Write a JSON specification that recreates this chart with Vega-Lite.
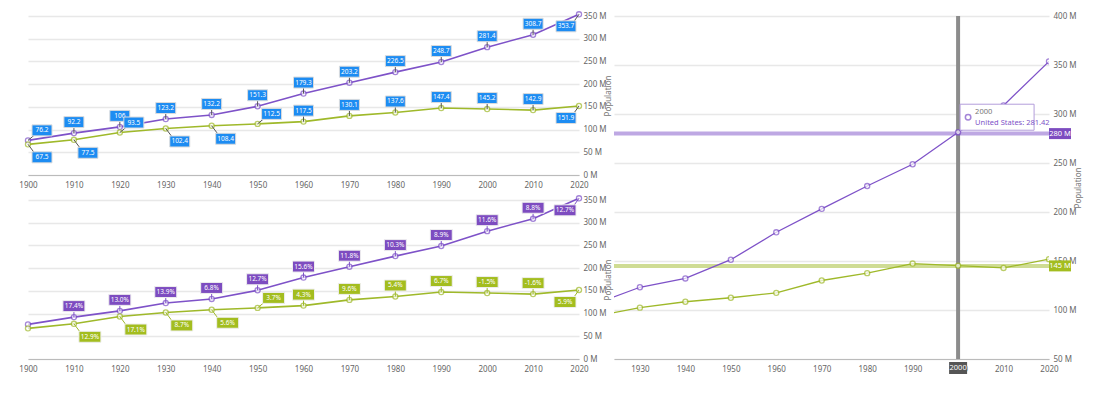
{
  "$schema": "https://vega.github.io/schema/vega-lite/v6.json",
  "background": "white",
  "padding": {"left": 18, "top": 9, "right": 5, "bottom": 5},
  "config": {
    "view": {"stroke": null},
    "font": "Noto Sans",
    "axis": {"labelFont": "Noto Sans", "labelFontSize": 8, "labelColor": "#666", "domainColor": "#bbb", "gridColor": "#e8e8e8", "gridWidth": 1.5, "ticks": false, "titleFont": "Noto Sans", "titleFontWeight": "normal", "titleFontSize": 8, "titleColor": "#777"},
    "axisX": {"labelFlush": false}
  },
  "datasets": {
    "pop": [
      {"year": 1900, "country": "United States", "pop": 76.2, "growth": null},
      {"year": 1910, "country": "United States", "pop": 92.2, "growth": "17.4%"},
      {"year": 1920, "country": "United States", "pop": 106, "growth": "13.0%"},
      {"year": 1930, "country": "United States", "pop": 123.2, "growth": "13.9%"},
      {"year": 1940, "country": "United States", "pop": 132.2, "growth": "6.8%"},
      {"year": 1950, "country": "United States", "pop": 151.3, "growth": "12.7%"},
      {"year": 1960, "country": "United States", "pop": 179.3, "growth": "15.6%"},
      {"year": 1970, "country": "United States", "pop": 203.2, "growth": "11.8%"},
      {"year": 1980, "country": "United States", "pop": 226.5, "growth": "10.3%"},
      {"year": 1990, "country": "United States", "pop": 248.7, "growth": "8.9%"},
      {"year": 2000, "country": "United States", "pop": 281.4, "growth": "11.6%"},
      {"year": 2010, "country": "United States", "pop": 308.7, "growth": "8.8%"},
      {"year": 2020, "country": "United States", "pop": 353.7, "growth": "12.7%"},
      {"year": 1900, "country": "Russia", "pop": 67.5, "growth": null},
      {"year": 1910, "country": "Russia", "pop": 77.5, "growth": "12.9%"},
      {"year": 1920, "country": "Russia", "pop": 93.5, "growth": "17.1%"},
      {"year": 1930, "country": "Russia", "pop": 102.4, "growth": "8.7%"},
      {"year": 1940, "country": "Russia", "pop": 108.4, "growth": "5.6%"},
      {"year": 1950, "country": "Russia", "pop": 112.5, "growth": "3.7%"},
      {"year": 1960, "country": "Russia", "pop": 117.5, "growth": "4.3%"},
      {"year": 1970, "country": "Russia", "pop": 130.1, "growth": "9.6%"},
      {"year": 1980, "country": "Russia", "pop": 137.6, "growth": "5.4%"},
      {"year": 1990, "country": "Russia", "pop": 147.4, "growth": "6.7%"},
      {"year": 2000, "country": "Russia", "pop": 145.2, "growth": "-1.5%"},
      {"year": 2010, "country": "Russia", "pop": 142.9, "growth": "-1.6%"},
      {"year": 2020, "country": "Russia", "pop": 151.9, "growth": "5.9%"}
    ]
  },
  "spacing": -1,
  "hconcat": [
    {
      "spacing": 4,
      "vconcat": [
        {
          "width": 551, "height": 159,
          "data": {"name": "pop"},
          "encoding": {
            "x": {"field": "year", "type": "quantitative", "scale": {"domain": [1900, 2020], "nice": false}, "axis": {"values": [1900, 1910, 1920, 1930, 1940, 1950, 1960, 1970, 1980, 1990, 2000, 2010, 2020], "format": "d", "title": null, "grid": false, "labelPadding": 6}},
            "y": {"field": "pop", "type": "quantitative", "scale": {"domain": [0, 350], "nice": false}, "axis": {"orient": "right", "values": [0, 50, 100, 150, 200, 250, 300, 350], "labelExpr": "datum.value + ' M'", "title": "Population", "titleAngle": 270, "domain": false, "grid": true, "labelPadding": 4, "titlePadding": 6}}
          },
          "layer": [
            {"mark": {"type": "line", "strokeWidth": 1.6}, "encoding": {"color": {"field": "country", "type": "nominal", "scale": {"domain": ["United States", "Russia"], "range": ["#7e52c8", "#9fb92a"]}, "legend": null}}},
            {"mark": {"type": "point", "filled": true, "fill": "white", "size": 26, "strokeWidth": 1.3}, "encoding": {"stroke": {"field": "country", "type": "nominal", "scale": {"domain": ["United States", "Russia"], "range": ["#7e52c8", "#9fb92a"]}, "legend": null}}},
            {
              "transform": [{"filter": "(datum.country=='United States' && datum.year>=1910 && datum.year<=2010) || (datum.country=='Russia' && datum.year>=1960 && datum.year<=2010)"}],
              "layer": [
                {"mark": {"type": "rule", "color": "#555", "strokeWidth": 1, "y2Offset": -5.5}, "encoding": {"x2": {"field": "year"}, "y2": {"field": "pop"}}},
                {"mark": {"type": "rect", "fill": "#1d8cf2", "stroke": "#dcdcdc", "strokeWidth": 1, "xOffset": -10, "x2Offset": 10, "yOffset": -16.5, "y2Offset": -5.5}, "encoding": {"x2": {"field": "year"}, "y2": {"field": "pop"}}},
                {"mark": {"type": "text", "color": "white", "fontSize": 6.5, "yOffset": -11}, "encoding": {"text": {"field": "pop", "type": "quantitative"}}}
              ]
            },
            {
              "transform": [{"filter": "(datum.country=='United States' && datum.year==1900) || (datum.country=='Russia' && (datum.year==1920 || datum.year==1950))"}],
              "layer": [
                {"mark": {"type": "rule", "color": "#555", "strokeWidth": 1, "x2Offset": 6, "y2Offset": -5}, "encoding": {"x2": {"field": "year"}, "y2": {"field": "pop"}}},
                {"mark": {"type": "rect", "fill": "#1d8cf2", "stroke": "#dcdcdc", "strokeWidth": 1, "xOffset": 4, "x2Offset": 24, "yOffset": -15.5, "y2Offset": -4.5}, "encoding": {"x2": {"field": "year"}, "y2": {"field": "pop"}}},
                {"mark": {"type": "text", "color": "white", "fontSize": 6.5, "xOffset": 14, "yOffset": -10}, "encoding": {"text": {"field": "pop", "type": "quantitative"}}}
              ]
            },
            {
              "transform": [{"filter": "datum.country=='Russia' && (datum.year==1900 || datum.year==1910 || datum.year==1930 || datum.year==1940)"}],
              "layer": [
                {"mark": {"type": "rule", "color": "#555", "strokeWidth": 1, "x2Offset": 6, "y2Offset": 8}, "encoding": {"x2": {"field": "year"}, "y2": {"field": "pop"}}},
                {"mark": {"type": "rect", "fill": "#1d8cf2", "stroke": "#dcdcdc", "strokeWidth": 1, "xOffset": 4, "x2Offset": 24, "yOffset": 7.5, "y2Offset": 18.5}, "encoding": {"x2": {"field": "year"}, "y2": {"field": "pop"}}},
                {"mark": {"type": "text", "color": "white", "fontSize": 6.5, "xOffset": 14, "yOffset": 13}, "encoding": {"text": {"field": "pop", "type": "quantitative"}}}
              ]
            },
            {
              "transform": [{"filter": "datum.year==2020"}],
              "layer": [
                {"mark": {"type": "rule", "color": "#555", "strokeWidth": 1, "x2Offset": -5, "y2Offset": 7}, "encoding": {"x2": {"field": "year"}, "y2": {"field": "pop"}}},
                {"mark": {"type": "rect", "fill": "#1d8cf2", "stroke": "#dcdcdc", "strokeWidth": 1, "xOffset": -23, "x2Offset": -3, "yOffset": 6.5, "y2Offset": 17.5}, "encoding": {"x2": {"field": "year"}, "y2": {"field": "pop"}}},
                {"mark": {"type": "text", "color": "white", "fontSize": 6.5, "xOffset": -13, "yOffset": 12}, "encoding": {"text": {"field": "pop", "type": "quantitative"}}}
              ]
            }
          ]
        },
        {
          "width": 551, "height": 159,
          "data": {"name": "pop"},
          "encoding": {
            "x": {"field": "year", "type": "quantitative", "scale": {"domain": [1900, 2020], "nice": false}, "axis": {"values": [1900, 1910, 1920, 1930, 1940, 1950, 1960, 1970, 1980, 1990, 2000, 2010, 2020], "format": "d", "title": null, "grid": false, "labelPadding": 6}},
            "y": {"field": "pop", "type": "quantitative", "scale": {"domain": [0, 350], "nice": false}, "axis": {"orient": "right", "values": [0, 50, 100, 150, 200, 250, 300, 350], "labelExpr": "datum.value + ' M'", "title": "Population", "titleAngle": 270, "domain": false, "grid": true, "labelPadding": 4, "titlePadding": 6}}
          },
          "layer": [
            {"mark": {"type": "line", "strokeWidth": 1.6}, "encoding": {"color": {"field": "country", "type": "nominal", "scale": {"domain": ["United States", "Russia"], "range": ["#7e52c8", "#9fb92a"]}, "legend": null}}},
            {"mark": {"type": "point", "filled": true, "fill": "white", "size": 26, "strokeWidth": 1.3}, "encoding": {"stroke": {"field": "country", "type": "nominal", "scale": {"domain": ["United States", "Russia"], "range": ["#7e52c8", "#9fb92a"]}, "legend": null}}},
            {
              "transform": [{"filter": "(datum.country=='United States' && datum.year>=1910 && datum.year<=2010) || (datum.country=='Russia' && datum.year>=1960 && datum.year<=2010)"}],
              "layer": [
                {"mark": {"type": "rule", "strokeWidth": 1, "y2Offset": -5.5}, "encoding": {"x2": {"field": "year"}, "y2": {"field": "pop"}, "color": {"field": "country", "type": "nominal", "scale": {"domain": ["United States", "Russia"], "range": ["#7e52c8", "#9fb92a"]}, "legend": null}}},
                {"mark": {"type": "rect", "stroke": "#eeeeee", "strokeWidth": 1, "xOffset": -11, "x2Offset": 11, "yOffset": -16.5, "y2Offset": -5.5}, "encoding": {"x2": {"field": "year"}, "y2": {"field": "pop"}, "fill": {"field": "country", "type": "nominal", "scale": {"domain": ["United States", "Russia"], "range": ["#7d4cc0", "#a3bd1f"]}, "legend": null}}},
                {"mark": {"type": "text", "color": "white", "fontSize": 6.5, "yOffset": -11}, "encoding": {"text": {"field": "growth", "type": "nominal"}}}
              ]
            },
            {
              "transform": [{"filter": "datum.country=='Russia' && datum.year==1950"}],
              "layer": [
                {"mark": {"type": "rule", "strokeWidth": 1, "x2Offset": 6, "y2Offset": -5, "color": "#9fb92a"}, "encoding": {"x2": {"field": "year"}, "y2": {"field": "pop"}}},
                {"mark": {"type": "rect", "fill": "#a3bd1f", "stroke": "#eeeeee", "strokeWidth": 1, "xOffset": 5, "x2Offset": 27, "yOffset": -15.5, "y2Offset": -4.5}, "encoding": {"x2": {"field": "year"}, "y2": {"field": "pop"}}},
                {"mark": {"type": "text", "color": "white", "fontSize": 6.5, "xOffset": 16, "yOffset": -10}, "encoding": {"text": {"field": "growth", "type": "nominal"}}}
              ]
            },
            {
              "transform": [{"filter": "datum.country=='Russia' && (datum.year==1910 || datum.year==1920 || datum.year==1930 || datum.year==1940)"}],
              "layer": [
                {"mark": {"type": "rule", "strokeWidth": 1, "x2Offset": 6, "y2Offset": 8, "color": "#9fb92a"}, "encoding": {"x2": {"field": "year"}, "y2": {"field": "pop"}}},
                {"mark": {"type": "rect", "fill": "#a3bd1f", "stroke": "#eeeeee", "strokeWidth": 1, "xOffset": 5, "x2Offset": 27, "yOffset": 7.5, "y2Offset": 18.5}, "encoding": {"x2": {"field": "year"}, "y2": {"field": "pop"}}},
                {"mark": {"type": "text", "color": "white", "fontSize": 6.5, "xOffset": 16, "yOffset": 13}, "encoding": {"text": {"field": "growth", "type": "nominal"}}}
              ]
            },
            {
              "transform": [{"filter": "datum.year==2020"}],
              "layer": [
                {"mark": {"type": "rule", "strokeWidth": 1, "x2Offset": -5, "y2Offset": 7}, "encoding": {"x2": {"field": "year"}, "y2": {"field": "pop"}, "color": {"field": "country", "type": "nominal", "scale": {"domain": ["United States", "Russia"], "range": ["#7e52c8", "#9fb92a"]}, "legend": null}}},
                {"mark": {"type": "rect", "stroke": "#eeeeee", "strokeWidth": 1, "xOffset": -25, "x2Offset": -3, "yOffset": 6.5, "y2Offset": 17.5}, "encoding": {"x2": {"field": "year"}, "y2": {"field": "pop"}, "fill": {"field": "country", "type": "nominal", "scale": {"domain": ["United States", "Russia"], "range": ["#7d4cc0", "#a3bd1f"]}, "legend": null}}},
                {"mark": {"type": "text", "color": "white", "fontSize": 6.5, "xOffset": -14, "yOffset": 12}, "encoding": {"text": {"field": "growth", "type": "nominal"}}}
              ]
            }
          ]
        }
      ]
    },
    {
      "width": 435, "height": 343,
      "encoding": {
        "x": {"field": "year", "type": "quantitative", "scale": {"domain": [1924.3, 2020], "nice": false, "zero": false}, "axis": {"values": [1930, 1940, 1950, 1960, 1970, 1980, 1990, 2000, 2010, 2020], "format": "d", "title": null, "grid": false, "labelPadding": 6}},
        "y": {"field": "pop", "type": "quantitative", "scale": {"domain": [50, 400], "nice": false, "zero": false}, "axis": {"orient": "right", "values": [50, 100, 150, 200, 250, 300, 350, 400], "labelExpr": "datum.value + ' M'", "title": "Population", "titleAngle": 270, "domain": false, "grid": true, "labelPadding": 4, "titlePadding": 6}}
      },
      "layer": [
        {"data": {"values": [{"year": 2000}]}, "mark": {"type": "rule", "color": "#8c8c8c", "strokeWidth": 4}, "encoding": {"y": null}},
        {"data": {"values": [{"pop": 280, "country": "United States"}, {"pop": 145, "country": "Russia"}]}, "mark": {"type": "rule", "strokeWidth": 4, "opacity": 0.5}, "encoding": {"x": null, "color": {"field": "country", "type": "nominal", "scale": {"domain": ["United States", "Russia"], "range": ["#7e52c8", "#a3bd1f"]}, "legend": null}}},
        {"data": {"name": "pop"}, "mark": {"type": "line", "strokeWidth": 1.3, "clip": true}, "encoding": {"stroke": {"field": "country", "type": "nominal", "scale": {"domain": ["United States", "Russia"], "range": ["#a68ae0", "#9fb92a"]}, "legend": null}}},
        {"data": {"name": "pop"}, "mark": {"type": "point", "filled": true, "fill": "white", "size": 26, "strokeWidth": 1.3, "clip": true}, "encoding": {"fill": {"value": "white"}, "stroke": {"field": "country", "type": "nominal", "scale": {"domain": ["United States", "Russia"], "range": ["#7e52c8", "#9fb92a"]}, "legend": null}}},
        {"data": {"values": [{"year": 2000, "pop": 281.42}]}, "mark": {"type": "rect", "fill": "white", "stroke": "#b39ddb", "strokeWidth": 1, "xOffset": 2, "x2Offset": 76, "yOffset": -28, "y2Offset": -2}, "encoding": {"x2": {"field": "year"}, "y2": {"field": "pop"}}},
        {"data": {"values": [{"year": 2000, "pop": 281.42}]}, "mark": {"type": "point", "shape": "circle", "filled": true, "fill": "white", "stroke": "#7e52c8", "strokeWidth": 1.5, "size": 30, "xOffset": 10, "yOffset": -15}},
        {"data": {"values": [{"year": 2000, "pop": 281.42, "label": "2000"}]}, "mark": {"type": "text", "align": "left", "fontSize": 7.5, "color": "#777", "xOffset": 17, "yOffset": -20}, "encoding": {"text": {"field": "label"}}},
        {"data": {"values": [{"year": 2000, "pop": 281.42, "label": "United States: 281.42"}]}, "mark": {"type": "text", "align": "left", "fontSize": 7.5, "color": "#7e52c8", "xOffset": 17, "yOffset": -9}, "encoding": {"text": {"field": "label"}}},
        {"data": {"values": [{"year": 2020, "pop": 280, "country": "United States"}, {"year": 2020, "pop": 145, "country": "Russia"}]}, "mark": {"type": "rect", "xOffset": 0, "x2Offset": 22, "yOffset": -5.5, "y2Offset": 5.5}, "encoding": {"x2": {"field": "year"}, "y2": {"field": "pop"}, "fill": {"field": "country", "type": "nominal", "scale": {"domain": ["United States", "Russia"], "range": ["#7d4cc0", "#a3bd1f"]}, "legend": null}}},
        {"data": {"values": [{"year": 2020, "pop": 280, "label": "280 M"}, {"year": 2020, "pop": 145, "label": "145 M"}]}, "mark": {"type": "text", "color": "white", "fontSize": 7.5, "xOffset": 11}, "encoding": {"text": {"field": "label"}}},
        {"data": {"values": [{"year": 2000, "pop": 50}]}, "mark": {"type": "rect", "fill": "#555", "xOffset": -9, "x2Offset": 9, "yOffset": 3, "y2Offset": 15}, "encoding": {"x2": {"field": "year"}, "y2": {"field": "pop"}}},
        {"data": {"values": [{"year": 2000, "pop": 50, "label": "2000"}]}, "mark": {"type": "text", "color": "white", "fontSize": 7.5, "yOffset": 9}, "encoding": {"text": {"field": "label"}}}
      ]
    }
  ]
}
